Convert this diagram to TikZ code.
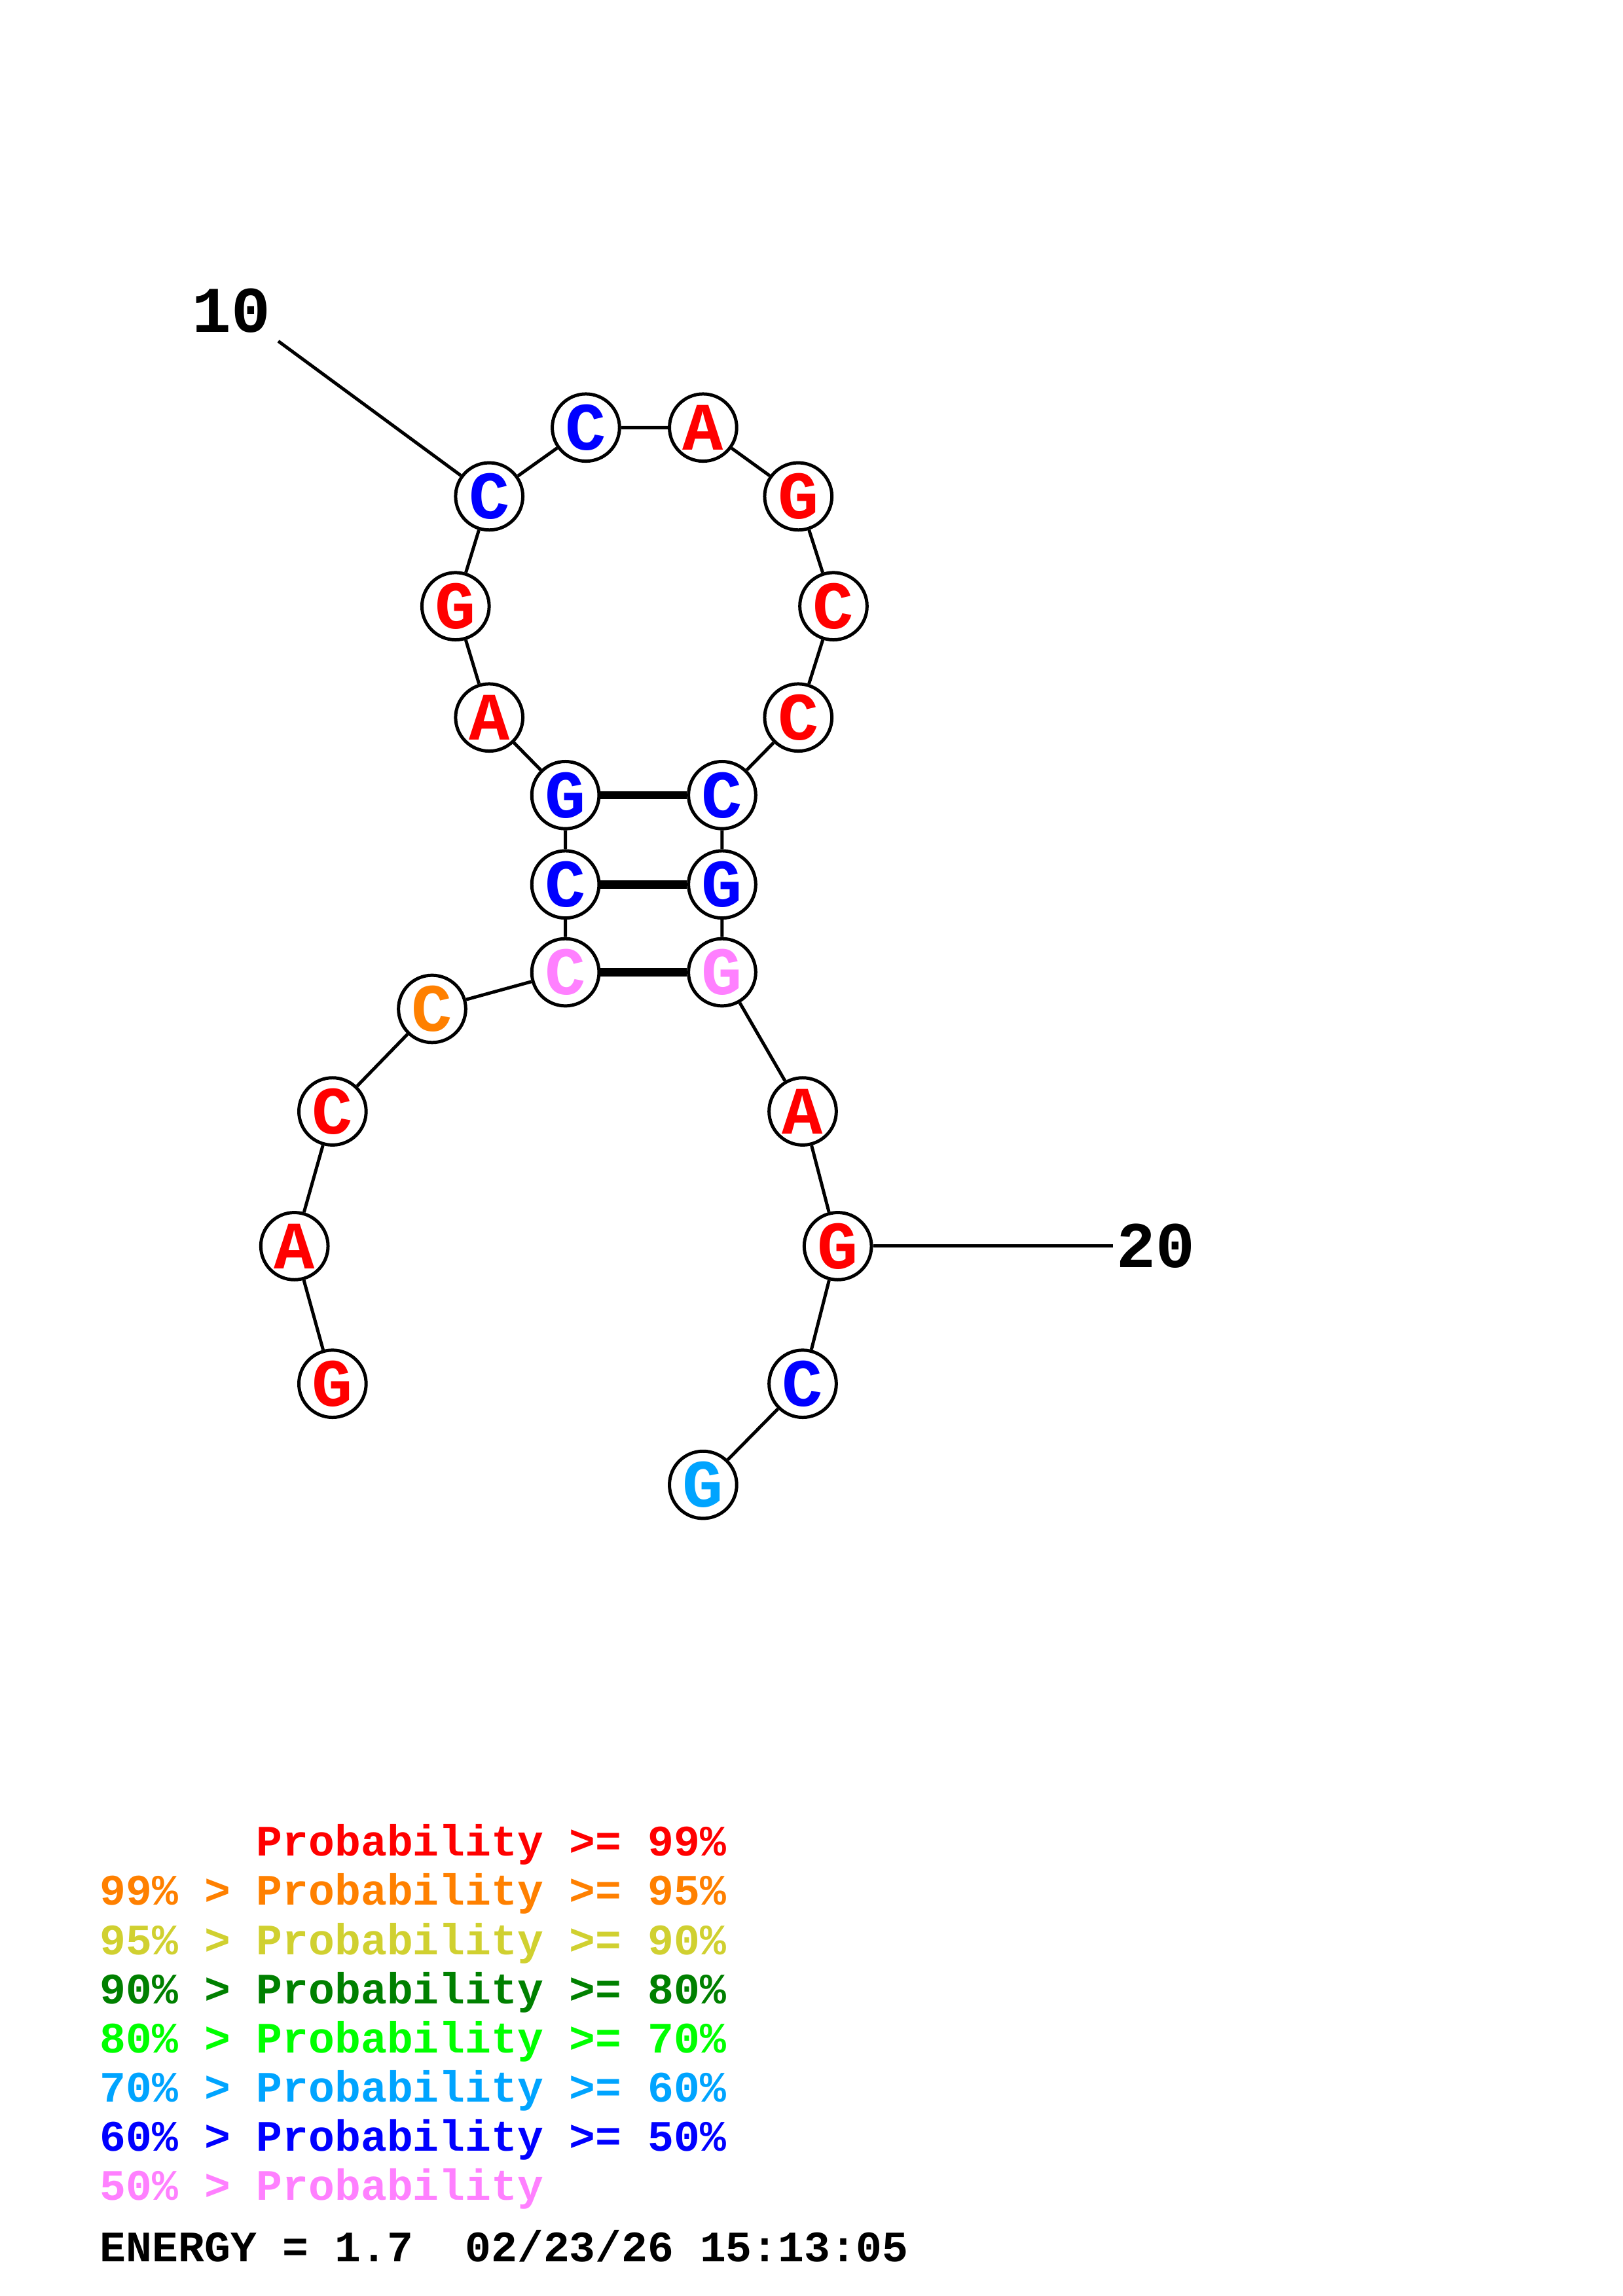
\documentclass[tikz,border=0pt]{standalone}
\usepackage{fontspec}
\setmonofont{Liberation Mono}
\usepackage{tikz}
\usetikzlibrary{positioning}

\definecolor{pr99}{RGB}{255,0,0}
\definecolor{pr95}{RGB}{255,128,0}
\definecolor{pr90}{RGB}{208,208,48}
\definecolor{pr80}{RGB}{0,128,0}
\definecolor{pr70}{RGB}{0,255,0}
\definecolor{pr60}{RGB}{0,164,255}
\definecolor{pr50}{RGB}{0,0,255}
\definecolor{prlow}{RGB}{255,128,255}

\tikzset{
  nt/.style={circle, draw, fill=white, line width=1.2pt, minimum size=8.7mm, inner sep=0pt,
    font=\ttfamily\bfseries\fontsize{25}{25}\selectfont},
  bb/.style={line width=1.2pt},
  bp/.style={line width=3pt},
  lgd/.style={anchor=base west, inner sep=0pt, font=\ttfamily\bfseries\fontsize{16}{16}\selectfont}
}

\begin{document}
\begin{tikzpicture}[x=0.18953mm, y=-0.18953mm]
    \useasboundingbox (0,0) rectangle (1108,1568);
    \node[nt, text=pr99] (n1) at (227,945) {G};
    \node[nt, text=pr99] (n2) at (201,851) {A};
    \node[nt, text=pr99] (n3) at (227,759) {C};
    \node[nt, text=pr95] (n4) at (295,689) {C};
    \node[nt, text=prlow] (n5) at (386,664) {C};
    \node[nt, text=pr50] (n6) at (386,604) {C};
    \node[nt, text=pr50] (n7) at (386,543) {G};
    \node[nt, text=pr99] (n8) at (334,490) {A};
    \node[nt, text=pr99] (n9) at (311,414) {G};
    \node[nt, text=pr50] (n10) at (334,339) {C};
    \node[nt, text=pr50] (n11) at (400,292) {C};
    \node[nt, text=pr99] (n12) at (480,292) {A};
    \node[nt, text=pr99] (n13) at (545,339) {G};
    \node[nt, text=pr99] (n14) at (569,414) {C};
    \node[nt, text=pr99] (n15) at (545,490) {C};
    \node[nt, text=pr50] (n16) at (493,543) {C};
    \node[nt, text=pr50] (n17) at (493,604) {G};
    \node[nt, text=prlow] (n18) at (493,664) {G};
    \node[nt, text=pr99] (n19) at (548,759) {A};
    \node[nt, text=pr99] (n20) at (572,851) {G};
    \node[nt, text=pr50] (n21) at (548,945) {C};
    \node[nt, text=pr60] (n22) at (480,1014) {G};

    \draw[bb] (n1)--(n2)--(n3)--(n4)--(n5)--(n6)--(n7)--(n8)--(n9)--(n10)--(n11);
    \draw[bb] (n11)--(n12)--(n13)--(n14)--(n15)--(n16)--(n17)--(n18)--(n19)--(n20)--(n21)--(n22);
    \draw[bp] (n7)--(n16);
    \draw[bp] (n6)--(n17);
    \draw[bp] (n5)--(n18);

    \node[font=\ttfamily\bfseries\fontsize{24}{24}\selectfont] (lab10) at (158,212) {10};
    \coordinate (end10) at (190,233);
    \draw[bb] (end10)--(n10);
    \node[font=\ttfamily\bfseries\fontsize{24}{24}\selectfont] (lab20) at (789,851) {20};
    \coordinate (end20) at (760,851);
    \draw[bb] (n20)--(end20);

    \node[lgd, text=pr99] (l99) at (68,1267.5) {\hphantom{99\% > }Probability >= 99\%};
    \node[lgd, text=pr95] (l95) at (68,1301.1) {99\% > Probability >= 95\%};
    \node[lgd, text=pr90] (l90) at (68,1334.7) {95\% > Probability >= 90\%};
    \node[lgd, text=pr80] (l80) at (68,1368.3) {90\% > Probability >= 80\%};
    \node[lgd, text=pr70] (l70) at (68,1401.9) {80\% > Probability >= 70\%};
    \node[lgd, text=pr60] (l60) at (68,1435.5) {70\% > Probability >= 60\%};
    \node[lgd, text=pr50] (l50) at (68,1469.1) {60\% > Probability >= 50\%};
    \node[lgd, text=prlow] (llow) at (68,1502.7) {50\% > Probability};
    \node[lgd] (energy) at (68,1544.5) {ENERGY = 1.7\ \ 02/23/26 15:13:05};
\end{tikzpicture}
\end{document}
